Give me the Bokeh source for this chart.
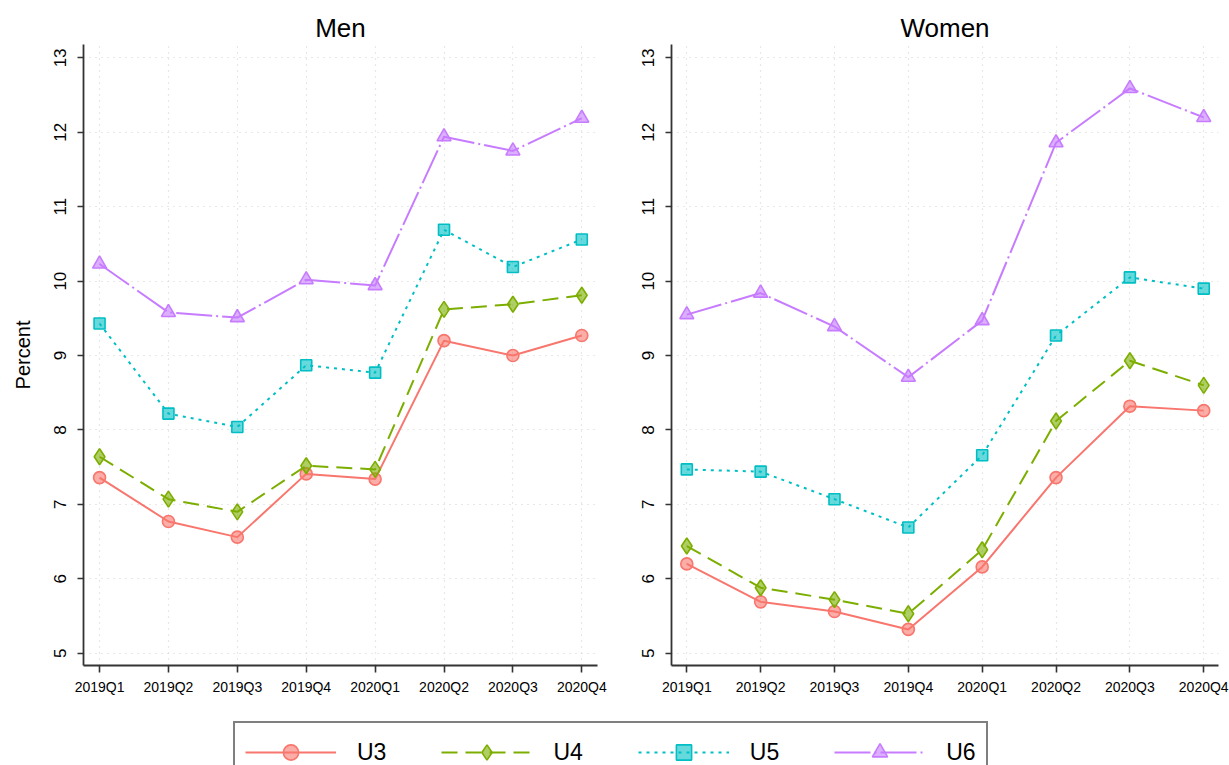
from bokeh.plotting import figure
from bokeh.layouts import column, row
from bokeh.models import Range1d, FixedTicker, Legend, LegendItem, ColumnDataSource
from bokeh.embed import file_html
from bokeh.resources import INLINE

# ---- data -------------------------------------------------------------
quarters = ["2019Q1", "2019Q2", "2019Q3", "2019Q4",
            "2020Q1", "2020Q2", "2020Q3", "2020Q4"]
y_ticks = [5, 6, 7, 8, 9, 10, 11, 12, 13]
measures = ["U3", "U4", "U5", "U6"]

men_u3 = [7.36, 6.77, 6.56, 7.41, 7.34, 9.20, 9.00, 9.27]
men_u4 = [7.64, 7.07, 6.90, 7.52, 7.47, 9.62, 9.69, 9.81]
men_u5 = [9.43, 8.22, 8.04, 8.87, 8.77, 10.69, 10.19, 10.56]
men_u6 = [10.23, 9.58, 9.51, 10.02, 9.94, 11.94, 11.75, 12.19]

women_u3 = [6.20, 5.69, 5.56, 5.32, 6.16, 7.36, 8.32, 8.26]
women_u4 = [6.44, 5.88, 5.72, 5.53, 6.39, 8.12, 8.93, 8.60]
women_u5 = [7.47, 7.44, 7.07, 6.69, 7.66, 9.27, 10.05, 9.90]
women_u6 = [9.55, 9.84, 9.39, 8.71, 9.47, 11.86, 12.59, 12.20]

men = [men_u3, men_u4, men_u5, men_u6]
women = [women_u3, women_u4, women_u5, women_u6]

# ---- styles -----------------------------------------------------------
FONT = "Liberation Sans"
STYLE = {
    "U3": dict(color="#F8766D", dash="solid", marker="circle", size=12),
    "U4": dict(color="#7CAE00", dash="16 8", marker="diamond", size=16),
    "U5": dict(color="#00BFC4", dash="3 5", marker="square", size=11),
    "U6": dict(color="#C77CFF", dash="36 4 2 4", marker="triangle", size=14),
}

x_idx = list(range(len(quarters)))


def add_series(p, name, src):
    st = STYLE[name]
    r_line = p.line("x", "y", source=src, line_color=st["color"], line_width=2,
                    line_dash=st["dash"])
    r_mark = p.scatter("x", "y", source=src, marker=st["marker"], size=st["size"],
                       line_color=st["color"], line_width=1.6,
                       fill_color=st["color"], fill_alpha=0.6)
    return r_line, r_mark


def panel(title, data, width, border_left, border_right, x_pad_left, x_pad_right, ylabel):
    p = figure(width=width, height=700, output_backend="svg", toolbar_location=None,
               x_range=Range1d(-x_pad_left, len(quarters) - 1 + x_pad_right),
               y_range=Range1d(4.835, 13.18),
               min_border_left=border_left, min_border_right=border_right,
               min_border_top=44, min_border_bottom=35)
    p.outline_line_color = None
    p.background_fill_color = "white"
    p.border_fill_color = "white"

    p.title.text = title
    p.title.align = "center"
    p.title.text_font = FONT
    p.title.text_font_size = "26px"
    p.title.text_font_style = "normal"
    p.title.text_color = "black"
    p.title.standoff = 4

    p.xaxis.ticker = FixedTicker(ticks=x_idx)
    p.xaxis.major_label_overrides = {i: q for i, q in zip(x_idx, quarters)}
    p.yaxis.ticker = FixedTicker(ticks=y_ticks)
    p.yaxis.major_label_orientation = "vertical"

    for ax in (p.xaxis[0], p.yaxis[0]):
        ax.axis_line_color = "#333333"
        ax.axis_line_width = 1.8
        ax.major_tick_line_color = "#333333"
        ax.major_tick_line_width = 1.6
        ax.major_tick_in = 0
        ax.minor_tick_line_color = None
        ax.major_label_text_font = FONT
        ax.major_label_text_color = "black"
    p.xaxis.major_tick_out = 7
    p.yaxis.major_tick_out = 6
    p.xaxis.major_label_text_font_size = "14px"
    p.xaxis.major_label_standoff = 6
    p.yaxis.major_label_text_font_size = "17px"
    p.yaxis.major_label_standoff = 11
    if ylabel:
        p.yaxis.axis_label = ylabel
        p.yaxis.axis_label_text_font = FONT
        p.yaxis.axis_label_text_font_size = "20px"
        p.yaxis.axis_label_text_font_style = "normal"
        p.yaxis.axis_label_text_color = "black"
        p.yaxis.axis_label_standoff = 18

    for g in (p.xgrid[0], p.ygrid[0]):
        g.grid_line_color = "#d2d2d2"
        g.grid_line_dash = "1 5"
        g.grid_line_width = 1.2

    for name, vals in zip(measures, data):
        add_series(p, name, ColumnDataSource(dict(x=x_idx, y=vals)))
    return p


p_men = panel("Men", men, 620, 83, 23, 0.233, 0.228, "Percent")
p_women = panel("Women", women, 609, 51, 11, 0.207, 0.20, None)

# ---- shared legend strip ----------------------------------------------
leg = figure(width=1229, height=65, output_backend="svg", toolbar_location=None,
             x_range=Range1d(0, 1), y_range=Range1d(0, 1),
             x_axis_location=None, y_axis_location=None,
             min_border_left=233, min_border_top=21, min_border_right=0,
             min_border_bottom=0)
leg.outline_line_color = None
leg.xgrid.visible = False
leg.ygrid.visible = False

items = []
for name in measures:
    # key glyphs sit outside the strip's visible range; only the legend shows them
    offscreen = ColumnDataSource(dict(x=[-5, -4], y=[-5, -5]))
    r_line, r_mark = add_series(leg, name, offscreen)
    items.append(LegendItem(label=name, renderers=[r_line, r_mark]))

legend = Legend(items=items, orientation="horizontal", location="top_left",
                margin=0, padding=10, spacing=55, glyph_width=91, glyph_height=38,
                label_standoff=21, label_text_font=FONT, label_text_font_size="23px",
                label_text_color="black", border_line_color="black",
                border_line_width=2, background_fill_color="white",
                background_fill_alpha=1.0)
leg.add_layout(legend, "center")

layout = column(row(p_men, p_women), leg)

open("out.html", "w").write(file_html(layout, INLINE))
